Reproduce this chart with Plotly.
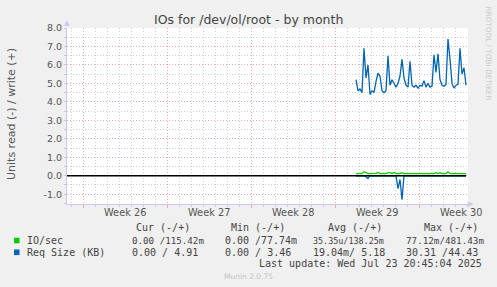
import pandas as pd
import plotly.graph_objects as go

# ---------------- data ----------------
sample_start = "2025-07-14 18:00"
n_samples = 56  # 4-hour samples
write_req_kb = [5.2, 4.6, 4.7, 4.5, 6.9, 5.3, 6.0, 4.4, 4.6, 4.5,
                5.1, 5.55, 5.4, 4.6, 4.5, 4.6, 6.5, 4.9, 5.2, 5.0,
                4.8, 5.0, 5.4, 6.3, 5.3, 4.9, 4.8, 6.2, 4.9, 4.8,
                4.9, 4.75, 4.9, 4.85, 5.15, 4.8, 5.0, 4.8, 4.85, 6.55,
                5.6, 6.6, 5.2, 4.9, 4.85, 4.95, 7.4, 6.3, 5.0, 4.75,
                4.9, 4.95, 6.9, 5.5, 5.85, 4.9]
read_req_kb = [0, 0, 0, 0, 0, 0.05, 0.15, 0, 0, 0,
               0, 0, 0, 0, 0, 0, 0, 0, 0, 0,
               0, 0.7, 0.2, 1.3, 0, 0, 0, 0, 0, 0,
               0, 0, 0, 0, 0, 0, 0, 0, 0, 0,
               0, 0, 0, 0, 0, 0, 0, 0, 0, 0,
               0, 0, 0, 0, 0, 0]
write_ios = [0.12, 0.12, 0.12, 0.12, 0.22, 0.17, 0.12, 0.12, 0.12, 0.12,
             0.13, 0.18, 0.12, 0.12, 0.12, 0.12, 0.17, 0.17, 0.12, 0.18,
             0.12, 0.12, 0.12, 0.17, 0.12, 0.12, 0.12, 0.12, 0.12, 0.12,
             0.12, 0.12, 0.12, 0.12, 0.12, 0.12, 0.12, 0.12, 0.12, 0.12,
             0.17, 0.12, 0.17, 0.12, 0.12, 0.12, 0.22, 0.13, 0.12, 0.12,
             0.12, 0.12, 0.12, 0.12, 0.12, 0.12]
read_ios = [0.0] * n_samples

x_range = ["2025-06-20 16:00", "2025-07-24 02:00"]
week_starts = "2025-06-22"
week_label_pos = ["2025-06-25 12:00", "2025-07-02 12:00", "2025-07-09 12:00",
                  "2025-07-16 12:00", "2025-07-23 12:00"]
week_labels = ["Week 26", "Week 27", "Week 28", "Week 29", "Week 30"]
y_ticks = [-1, 0, 1, 2, 3, 4, 5, 6, 7, 8]
y_tick_labels = [f"{v:.1f}" for v in y_ticks]

legend_headers = ["Cur (-/+)", "Min (-/+)", "Avg (-/+)", "Max (-/+)"]
legend_names = ["IO/sec", "Req Size (KB)"]
legend_colors = ["#00CC00", "#0066B3"]
row_iosec = ["0.00 /115.42m", "0.00 /77.74m", "35.35u/138.25m",
             "77.12m/481.43m"]
row_reqsize = ["0.00 / 4.91", "0.00 / 3.46", "19.04m/ 5.18", "30.31 /44.43"]
last_update = "Last update: Wed Jul 23 20:45:04 2025"

times = pd.date_range(sample_start, periods=n_samples, freq="4h")

# ---------------- layout helpers ----------------
W, H = 497, 287
L, R, T, B = 67, 468, 28, 204


def px(x):
    return (x - L) / (R - L)


def py(y):
    return (B - y) / (B - T)


GREEN, BLUE = legend_colors
fig = go.Figure()
fig.add_trace(go.Scatter(x=times, y=write_ios, mode="lines",
                         line=dict(color=GREEN, width=1.2)))
fig.add_trace(go.Scatter(x=times, y=[-v for v in read_ios], mode="lines",
                         line=dict(color=GREEN, width=1.2)))
fig.add_trace(go.Scatter(x=times, y=write_req_kb, mode="lines",
                         line=dict(color=BLUE, width=1.3)))
fig.add_trace(go.Scatter(x=times, y=[-v for v in read_req_kb], mode="lines",
                         line=dict(color=BLUE, width=1.3)))

MAJOR = "#F0A8A8"
MINOR = "#CFCFCF"
AXIS = "#C8C8F0"
DOTS = "1px,2px"

fig.update_layout(
    width=W, height=H, autosize=False,
    margin=dict(l=L, r=W - R, t=T, b=H - B, pad=0),
    paper_bgcolor="#F0F0F0", plot_bgcolor="#FFFFFF",
    showlegend=False,
    font=dict(family="DejaVu Sans", color="#555555"),
    xaxis=dict(type="date", range=x_range, tickmode="linear",
               tick0=week_starts, dtick=7 * 86400000,
               showgrid=True, gridcolor=MAJOR, griddash=DOTS, gridwidth=1,
               showticklabels=False, ticks="outside", ticklen=3,
               tickcolor=MAJOR, showline=True, linecolor=AXIS,
               zeroline=False,
               minor=dict(tickmode="linear", tick0=week_starts,
                          dtick=86400000, showgrid=True, gridcolor=MINOR,
                          griddash=DOTS, ticks="outside", ticklen=2,
                          tickcolor="#cccccc")),
    yaxis=dict(range=[-1.53, 8.0], tickmode="array", tickvals=y_ticks,
               ticktext=y_tick_labels, showgrid=True, gridcolor=MAJOR,
               griddash=DOTS, zeroline=False, showline=True,
               linecolor=AXIS, ticks="outside", ticklen=2,
               tickcolor="#cccccc",
               tickfont=dict(family="DejaVu Sans", size=9.5,
                             color="#555555"),
               minor=dict(tickmode="linear", tick0=0, dtick=0.5,
                          showgrid=True, gridcolor=MINOR, griddash=DOTS,
                          ticks="outside", ticklen=2, tickcolor="#cccccc")),
)

# zero rule
fig.add_shape(type="line", xref="paper", yref="y", x0=0, x1=px(466),
              y0=0, y1=0, line=dict(color="#000000", width=1.5),
              layer="above")

# legend squares
for i, c in enumerate(legend_colors):
    yc = 240.5 + i * 11.8
    fig.add_shape(type="rect", xref="paper", yref="paper",
                  x0=px(14), x1=px(19.5), y0=py(yc + 2.8), y1=py(yc - 2.8),
                  fillcolor=c, line=dict(width=0))

ann = []


def text(x, y, s, size=10, color="#444444", family="DejaVu Sans Mono",
         xanchor="left", angle=0):
    ann.append(dict(x=px(x), y=py(y), xref="paper", yref="paper", text=s,
                    showarrow=False, xanchor=xanchor, yanchor="middle",
                    textangle=angle, borderpad=0,
                    font=dict(family=family, size=size, color=color)))


# title and side texts
text(248, 19.5, "IOs for /dev/ol/root - by month", size=12.5,
     color="#444444", family="DejaVu Sans", xanchor="center")
text(11, 114, "Units read (-) / write (+)", size=11, color="#555555",
     family="DejaVu Sans", xanchor="center", angle=-90)
text(488, 53.5, "RRDTOOL / TOBI OETIKER", size=7.3, color="#cccccc",
     family="DejaVu Sans", xanchor="center", angle=90)
text(248, 276.5, "Munin 2.0.75", size=7.5, color="#c4c4c4",
     family="DejaVu Sans", xanchor="center")

# axis arrows
text(67, 23, "▲", size=7, color="#C8C8F0", family="DejaVu Sans",
     xanchor="center")
text(471, 204, "▶", size=7, color="#C8C8F0", family="DejaVu Sans",
     xanchor="center")

# week labels
for pos, lab in zip(week_label_pos, week_labels):
    ann.append(dict(x=pos, y=py(213), xref="x", yref="paper", text=lab,
                    showarrow=False, xanchor="center", yanchor="middle",
                    borderpad=0,
                    font=dict(family="DejaVu Sans", size=9.8,
                              color="#555555")))

# legend table
col_x = [131, 224, 312, 405]
col_w1 = [72, 72, 71, 78]  # pixel widths of row 1 cells in the reference
for hx, h in zip([135, 230, 327, 423], legend_headers):
    text(hx, 227.5, h)
text(26, 240.5, legend_names[0])
text(26, 252.3, legend_names[1])
for x0, w, s in zip(col_x, col_w1, row_iosec):
    text(x0, 240.5, s, size=min(10, w / (len(s) * 0.602)))
for x0, s in zip(col_x, row_reqsize):
    text(x0, 252.3, s)
text(483, 263.8, last_update, xanchor="right")

fig.update_layout(annotations=ann)
fig.write_html("out.html", config={"displayModeBar": False})
